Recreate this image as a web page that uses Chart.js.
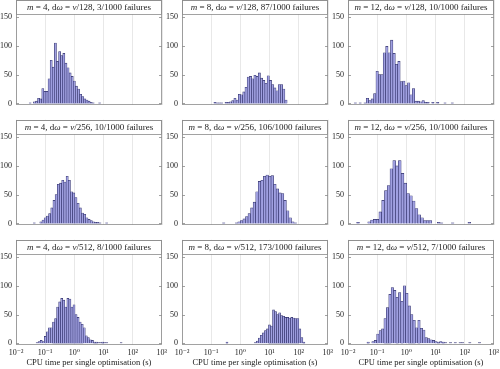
<!DOCTYPE html>
<html lang="en">
<head>
<meta charset="UTF-8">
<title>CPU time per single optimisation</title>
<script src="https://cdn.jsdelivr.net/npm/chart.js"></script>
<style>
  body { margin: 0; background: #fff; }
  #wrap { position: relative; width: 500px; height: 369px; overflow: hidden; }
  #wrap canvas { position: absolute; }
</style>
</head>
<body>
<div id="wrap"></div>
<script>
// grid of runs: columns = m, rows = dω divisor
const mValues = [4, 8, 12];
const dwDivisors = [128, 256, 512];
const failures = [[3, 87, 10], [10, 106, 10], [8, 173, 7]]; // [row][col], out of 1000
const yTicks = [0, 50, 100, 150];
const xTicks = [-2, -1, 0, 1, 2, 3]; // log10 of seconds
const xTickLabels = ['10⁻²', '10⁻¹', '10⁰', '10¹', '10²', '10³'];

// histograms: [first bin edge (log10 s), bin width (decades)] and counts per bin
const edge_m4_dw128 = [-1.55, 0.072];
const counts_m4_dw128 = [1,0,3,4,9,8,26,21,21,43,75,63,105,73,90,83,87,70,62,53,47,39,30,25,16,12,8,6,4,2,1,0,0,1];
const edge_m8_dw128 = [-0.908, 0.076];
const counts_m8_dw128 = [2,1,1,1,0,2,2,3,5,9,6,16,15,20,28,46,47,43,49,47,53,44,40,35,48,40,33,27,22,33,33,25,6];
const edge_m12_dw128 = [-1.79, 0.083];
const counts_m12_dw128 = [1,0,1,0,1,9,5,8,17,56,50,50,88,99,88,110,87,68,73,38,39,31,36,15,26,4,4,3,5,2,2,0,2,0,2,0,0,1,0,0,1];

const edge_m4_dw256 = [-1.41, 0.075];
const counts_m4_dw256 = [1,0,0,3,6,10,13,17,27,40,50,68,70,75,72,82,75,55,53,45,35,27,18,16,10,7,5,3,2,2,1,0,0,1];
const edge_m8_dw256 = [-0.615, 0.0876];
const counts_m8_dw256 = [1,0,0,0,0,1,3,5,8,12,17,27,37,55,73,75,82,84,82,83,68,60,53,52,40,22,10,3,1];
const edge_m12_dw256 = [-1.704, 0.0953];
const counts_m12_dw256 = [2,0,0,0,3,6,7,7,20,40,57,66,95,109,100,109,87,70,52,48,39,26,15,10,5,5,5,0,0,2,1,0,0,0,1,0,0,0,0,0,2];

const edge_m4_dw512 = [-1.311, 0.0703];
const counts_m4_dw512 = [1,3,5,3,12,20,27,27,37,43,63,72,78,75,63,78,77,63,67,50,45,37,33,27,13,10,6,5,2,2,1,1,2,1,1,0,0,0,0,0,0,1];
const edge_m8_dw512 = [-0.492, 0.0694];
const counts_m8_dw512 = [2,0,0,0,0,0,0,0,0,0,0,0,0,0,1,4,9,14,18,22,25,32,30,58,55,50,53,48,47,45,45,44,45,44,43,43,25,10,2];
const edge_m12_dw512 = [-1.35, 0.083];
const counts_m12_dw512 = [2,0,3,5,16,22,25,43,62,85,97,92,80,88,73,100,87,65,50,40,27,40,26,23,10,8,6,5,3,2,3,2,1,0,1,0,1,0,1,1,0,0,1,0,0,0,1];

const panels = [
  [[edge_m4_dw128, counts_m4_dw128], [edge_m8_dw128, counts_m8_dw128], [edge_m12_dw128, counts_m12_dw128]],
  [[edge_m4_dw256, counts_m4_dw256], [edge_m8_dw256, counts_m8_dw256], [edge_m12_dw256, counts_m12_dw256]],
  [[edge_m4_dw512, counts_m4_dw512], [edge_m8_dw512, counts_m8_dw512], [edge_m12_dw512, counts_m12_dw512]]
];

// page layout of the plot boxes
const colLeft = [16, 182, 348];
const rowTop = [0, 120, 240];
const plotW = 146, plotH = 105, yAxisW = 17, padRight = 4;
const serif = '"Liberation Serif", "DejaVu Serif", serif';
const frameColor = '#8c8c8c';
const textColor = '#1c1c1c';

const panelFrame = {
  id: 'panelFrame',
  afterDatasetsDraw(chart, args, opts) {
    const ctx = chart.ctx, a = chart.chartArea, y = chart.scales.y;
    const L = Math.round(a.left), T = Math.round(a.top), R = Math.round(a.right), B = Math.round(a.bottom);
    ctx.save();
    ctx.strokeStyle = frameColor;
    ctx.lineWidth = 0.8;
    // y ticks pointing inwards on both sides
    yTicks.forEach(v => {
      const py = Math.round(y.getPixelForValue(v)) + 0.5;
      ctx.beginPath();
      ctx.moveTo(L, py); ctx.lineTo(L + 3, py);
      ctx.moveTo(R, py); ctx.lineTo(R - 3, py);
      ctx.stroke();
    });
    // title box at the top of the axes
    const bh = 14;
    ctx.fillStyle = '#fff';
    ctx.fillRect(L, T, R - L, bh);
    ctx.strokeRect(L + 0.5, T + 0.5, R - L - 1, bh);
    const pieces = opts.pieces;
    let total = 0;
    pieces.forEach(p => {
      ctx.font = (p.it ? 'italic ' : '') + '9px ' + serif;
      p.w = ctx.measureText(p.t).width;
      total += p.w;
    });
    let x = (L + R) / 2 - total / 2;
    ctx.fillStyle = textColor;
    ctx.textBaseline = 'middle';
    pieces.forEach(p => {
      ctx.font = (p.it ? 'italic ' : '') + '9px ' + serif;
      ctx.fillText(p.t, x, T + bh / 2 + 1);
      x += p.w;
    });
    // axes frame
    ctx.strokeRect(L + 0.5, T + 0.5, R - L - 1, B - T - 1);
    ctx.restore();
  }
};

const wrap = document.getElementById('wrap');

function buildPanel(r, c, edge, counts, cv, w, h, xAxisH) {
  const last = r === 2;
  const bars = counts.map((n, i) => ({ x: edge[0] + (i + 0.5) * edge[1], y: n }));
  const pieces = [
    { t: 'm', it: true }, { t: ' = ' + mValues[c] + ', d' }, { t: 'ω', it: true },
    { t: ' = ' }, { t: 'ν', it: true },
    { t: '/' + dwDivisors[r] + ', ' + failures[r][c] + '/1000 failures' }
  ];
  cv.width = w; cv.height = h;
  cv.style.width = w + 'px'; cv.style.height = h + 'px';
  return new Chart(cv, {
    type: 'bar',
    data: {
      datasets: [{
        data: bars,
        backgroundColor: 'rgb(160,160,225)',
        borderColor: 'rgb(48,48,105)',
        borderWidth: 0.6,
        barPercentage: 1,
        categoryPercentage: 1
      }]
    },
    options: {
      responsive: false,
      animation: false,
      devicePixelRatio: 1,
      layout: { autoPadding: false, padding: { left: 0, right: padRight, top: 0, bottom: 0 } },
      plugins: {
        legend: { display: false },
        title: { display: false },
        tooltip: { enabled: false },
        panelFrame: { pieces: pieces }
      },
      scales: {
        x: {
          type: 'linear', min: -2, max: 3, offset: false,
          afterBuildTicks: s => { s.ticks = xTicks.map(v => ({ value: v })); },
          afterFit: s => { s.height = xAxisH; },
          grid: { color: '#e2e2e2', lineWidth: 0.8, drawTicks: false, tickLength: 0, offset: false },
          border: { display: false },
          ticks: {
            display: last, padding: 3, color: textColor,
            font: { family: serif, size: 8 },
            maxRotation: 0,
            callback: v => xTickLabels[xTicks.indexOf(v)]
          },
          title: {
            display: last, text: 'CPU time per single optimisation (s)',
            color: textColor, font: { family: serif, size: 8.5 },
            padding: { top: 0, bottom: 2 }
          }
        },
        y: {
          min: -3, max: 180,
          afterBuildTicks: s => { s.ticks = yTicks.map(v => ({ value: v })); },
          afterFit: s => { s.width = yAxisW; },
          grid: { display: false, drawTicks: false, tickLength: 0 },
          border: { display: false },
          ticks: { padding: 4, color: textColor, font: { family: serif, size: 8 } }
        }
      }
    },
    plugins: [panelFrame]
  });
}

panels.forEach((row, r) => row.forEach(([edge, counts], c) => {
  const xAxisH = r === 2 ? 25 : 1;
  const cv = document.createElement('canvas');
  wrap.appendChild(cv);
  let w = yAxisW + plotW + padRight, h = plotH + xAxisH;
  let chart = buildPanel(r, c, edge, counts, cv, w, h, xAxisH);
  // second pass: the y labels add padding above and below, so grow the canvas to keep the plot box size
  const a = chart.chartArea;
  const dH = Math.round(plotH - (a.bottom - a.top)), dW = Math.round(plotW - (a.right - a.left));
  chart.destroy();
  w += dW; h += dH;
  chart = buildPanel(r, c, edge, counts, cv, w, h, xAxisH);
  cv.style.left = (colLeft[c] - Math.round(chart.chartArea.left)) + 'px';
  cv.style.top = (rowTop[r] - Math.round(chart.chartArea.top)) + 'px';
}));
</script>
</body>
</html>
